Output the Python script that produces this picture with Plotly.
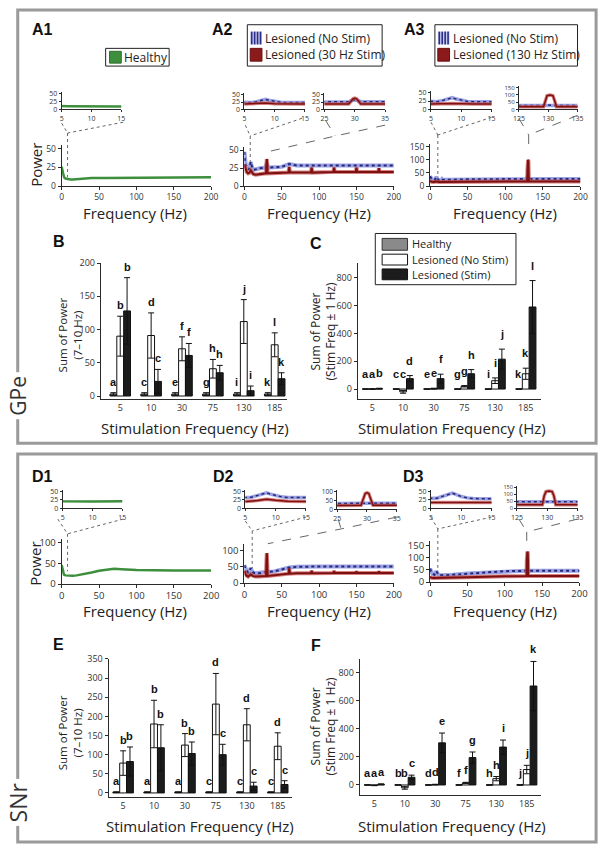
import plotly.graph_objects as go

W, H = 608, 853

# ---------------- data ----------------
STIM_FREQ_LABELS = ['5', '10', '30', '75', '130', '185']

# Power spectra (frequency in Hz, power)
GPE_HEALTHY_F = [0, 1, 2, 3, 4, 6, 8, 10, 12, 15, 20, 25, 30, 40, 60, 80, 100, 150, 200]
GPE_HEALTHY_P = [26, 23, 17, 13, 11, 10, 9.5, 9, 9, 9, 9.5, 10, 10.5, 11, 11, 11, 11.5, 12, 12]

GPE_NOSTIM_A2_F = [0, 0.5, 1, 2, 3, 4, 5, 6, 7, 8, 8.5, 9, 10, 11, 12, 13, 15, 17, 20, 25, 29, 29.5, 30, 30.5, 31,
                   35, 40, 50, 55, 60, 65, 70, 80, 100, 120, 150, 180, 200]
GPE_NOSTIM_A2_P = [48, 36, 31, 29, 27, 25, 23, 23, 26, 31, 34, 31, 27, 24, 23, 23, 23, 24, 25, 26, 26, 30, 32, 30, 26,
                   26, 27, 27, 29, 31, 30, 29, 29, 29, 30, 29, 29, 29]
GPE_STIM30_F = [0, 1, 2, 3, 5, 7, 8.5, 10, 12, 15, 20, 25, 29, 29.4, 29.7, 30, 30.3, 30.6, 31, 35, 50, 59, 60, 61,
                89, 90, 91, 119, 120, 121, 149, 150, 151, 179, 180, 181, 200]
GPE_STIM30_P = [30, 25, 22, 20, 18, 19, 22, 19, 17, 16, 17, 18, 18, 28, 36, 38, 36, 28, 18, 18, 19, 19, 27, 19,
                19, 26, 19, 20, 26, 20, 20, 26, 20, 20, 25, 20, 20]

GPE_NOSTIM_A3_F = [0, 0.5, 1, 2, 3, 5, 6, 7, 8, 8.5, 9, 10, 11, 12, 15, 16, 17, 20, 30, 50, 100, 125, 129, 129.5,
                   130, 130.5, 131, 135, 150, 200]
GPE_NOSTIM_A3_P = [38, 33, 30, 28, 26, 23, 23, 27, 33, 35, 32, 27, 24, 23, 23, 27, 24, 24, 25, 26, 27, 27, 27, 33,
                   33, 29, 27, 27, 27, 27]
GPE_STIM130_F = [0, 1, 2, 5, 8.5, 12, 15, 20, 50, 100, 129.2, 129.5, 129.8, 130.3, 130.8, 131.1, 131.4, 200]
GPE_STIM130_P = [20, 18, 17, 16, 18, 16, 16, 16, 17, 18, 18, 60, 95, 100, 95, 60, 18, 18]

SNR_HEALTHY_F = [0, 1, 2, 3, 5, 10, 15, 20, 30, 40, 50, 60, 70, 80, 90, 100, 150, 200]
SNR_HEALTHY_P = [46, 35, 27, 23, 21, 20, 20, 21, 24, 28, 32, 35, 37, 36, 35, 34, 33, 33]

SNR_NOSTIM_D2_F = [0, 1, 2, 3, 5, 6, 7, 8, 8.5, 9, 10, 11, 12, 15, 20, 25, 30, 35, 40, 50, 60, 70, 80, 100, 150, 200]
SNR_NOSTIM_D2_P = [55, 45, 40, 38, 32, 33, 38, 44, 46, 43, 38, 34, 32, 30, 30, 33, 34, 34, 36, 42, 48, 50, 51, 51, 51, 51]
SNR_STIM30_F = [0, 1, 2, 3, 5, 7, 8.5, 10, 12, 15, 20, 25, 29, 29.4, 29.7, 30, 30.3, 30.6, 31, 40, 50, 59, 60, 61,
                70, 89, 90, 91, 119, 120, 121, 149, 150, 151, 179, 180, 181, 200]
SNR_STIM30_P = [38, 30, 25, 23, 20, 23, 27, 24, 21, 20, 20, 21, 22, 60, 88, 92, 88, 60, 22, 24, 27, 29, 45, 29,
                30, 30, 38, 30, 31, 37, 31, 31, 36, 31, 31, 36, 31, 31]

SNR_NOSTIM_D3_F = [0, 1, 2, 3, 5, 6, 7, 8, 8.5, 9, 10, 11, 12, 15, 20, 30, 50, 75, 100, 125, 130, 150, 200]
SNR_NOSTIM_D3_P = [55, 45, 40, 36, 30, 30, 36, 43, 45, 42, 35, 31, 29, 28, 28, 30, 35, 40, 45, 46, 47, 47, 47]
SNR_STIM130_F = [0, 1, 2, 5, 10, 20, 50, 100, 129.2, 129.5, 129.8, 130.3, 130.8, 131.1, 131.4, 150, 200]
SNR_STIM130_P = [22, 20, 18, 17, 17, 17, 20, 24, 25, 90, 120, 125, 120, 90, 25, 25, 25]

# Bar charts: Healthy / Lesioned (No Stim) / Lesioned (Stim)
GPE_SUM_H = [3, 3, 3, 3, 3, 3]
GPE_SUM_H_ERR = [2, 2, 2, 2, 2, 2]
GPE_SUM_NS = [90, 91, 71, 41, 112, 77]
GPE_SUM_NS_ERR = [30, 34, 18, 14, 33, 18]
GPE_SUM_S = [128, 22, 61, 35, 8, 26]
GPE_SUM_S_ERR = [50, 18, 18, 11, 7, 9]
GPE_SUM_LETTERS = [['a', 'c', 'e', 'g', 'i', 'k'], ['b', 'd', 'f', 'h', 'j', 'l'], ['b', 'c', 'f', 'h', 'i', 'k']]

GPE_STIM_H = [0, 0, 0, 0, 0, 0]
GPE_STIM_H_ERR = [0, 0, 0, 0, 0, 0]
GPE_STIM_NS = [0, -20, 3, 20, 60, 110]
GPE_STIM_NS_ERR = [2, 10, 3, 5, 20, 40]
GPE_STIM_S = [3, 75, 75, 110, 215, 590]
GPE_STIM_S_ERR = [3, 22, 32, 30, 72, 190]
GPE_STIM_LETTERS = [['a', 'c', 'e', 'g', 'i', 'k'], ['a', 'c', 'e', 'g', 'i', 'k'], ['b', 'd', 'f', 'h', 'j', 'l']]

SNR_SUM_H = [2, 2, 2, 2, 2, 2]
SNR_SUM_H_ERR = [1, 1, 1, 1, 1, 1]
SNR_SUM_NS = [78, 180, 125, 232, 178, 122]
SNR_SUM_NS_ERR = [32, 62, 30, 80, 42, 35]
SNR_SUM_S = [82, 118, 103, 100, 18, 22]
SNR_SUM_S_ERR = [38, 60, 30, 27, 10, 10]
SNR_SUM_LETTERS = [['a', 'a', 'a', 'c', 'c', 'c'], ['b', 'b', 'b', 'd', 'd', 'd'], ['b', 'b', 'b', 'c', 'c', 'c']]

SNR_STIM_H = [0, 0, 0, 0, 0, 0]
SNR_STIM_H_ERR = [0, 0, 0, 0, 0, 0]
SNR_STIM_NS = [-3, -20, 3, 15, 45, 110]
SNR_STIM_NS_ERR = [2, 10, 2, 4, 15, 30]
SNR_STIM_S = [5, 55, 300, 195, 270, 705]
SNR_STIM_S_ERR = [3, 15, 70, 40, 50, 175]
SNR_STIM_LETTERS = [['a', 'b', 'd', 'f', 'h', 'j'], ['a', 'b', 'd', 'f', 'h', 'j'], ['a', 'c', 'e', 'g', 'i', 'k']]

# ---------------- helpers ----------------
FONT = 'Open Sans'
BOLD = 'Liberation Sans'
BARGAP = 0.335
BW = (1 - BARGAP) / 3

fig = go.Figure()
axes = {}
ann = []
shp = []


def X(p):
    return p / W


def Y(p):
    return 1 - p / H


AX = dict(showline=True, linecolor='#2a2a2a', linewidth=1, ticks='outside', tickcolor='#2a2a2a',
          showgrid=False, zeroline=False, fixedrange=True)
n_axes = [0]


def make_axes(x0, x1, xr, ytop, ybot, yr, xt, yt, fs, tl=4, xtext=None, yfs=None):
    n_axes[0] += 1
    s = '' if n_axes[0] == 1 else str(n_axes[0])
    tf = dict(size=fs, color='#333', family=FONT)
    ytf = dict(size=yfs or fs, color='#333', family=FONT)
    xa = dict(AX, domain=[X(x0), X(x1)], range=xr, anchor='y' + s, tickvals=xt, ticklen=tl, tickfont=tf)
    if xtext:
        xa['ticktext'] = xtext
    ya = dict(AX, domain=[Y(ybot), Y(ytop)], range=yr, anchor='x' + s, tickvals=yt, ticklen=tl, tickfont=ytf)
    axes['xaxis' + s] = xa
    axes['yaxis' + s] = ya
    return 'x' + s, 'y' + s


def line(f, p, xa, ya, color, w, dash='solid'):
    fig.add_trace(go.Scatter(x=f, y=p, mode='lines', line=dict(color=color, width=w, dash=dash),
                             xaxis=xa, yaxis=ya, showlegend=False, hoverinfo='skip'))


def green(f, p, xa, ya, w):
    line(f, p, xa, ya, '#3d8f3d', w)


def blue(f, p, xa, ya, w):
    line(f, p, xa, ya, '#9ca2e2', w + 2)
    line(f, p, xa, ya, '#23287a', w, 'dot')


def red(f, p, xa, ya, w):
    line(f, p, xa, ya, 'rgba(200,85,85,0.75)', w + 2)
    line(f, p, xa, ya, '#7d1010', w)


def txt(x, y, s, size, family=FONT, bold=False, angle=0, xanchor='center', bg=None, color='#222', pad=0):
    d = dict(x=X(x), y=Y(y), xref='paper', yref='paper', text=s, showarrow=False, xanchor=xanchor,
             yanchor='middle', textangle=angle, borderpad=pad,
             font=dict(size=size, family=family, color=color, weight='bold' if bold else 'normal'))
    if bg:
        d.update(bgcolor=bg, borderpad=3)
    ann.append(d)


def rect(x0, y0, x1, y1, fill, lc, lw=1):
    shp.append(dict(type='rect', xref='paper', yref='paper', x0=X(x0), x1=X(x1), y0=Y(y1), y1=Y(y0),
                    fillcolor=fill, line=dict(color=lc, width=lw)))


def path(points, dash, color='#666', w=1):
    d = 'M ' + ' L '.join(f'{X(a):.5f} {Y(b):.5f}' for a, b in points)
    shp.append(dict(type='path', path=d, xref='paper', yref='paper', line=dict(color=color, width=w, dash=dash)))


def bars(xa, ya, series, letters, yshift):
    colors = ['#8a8a8a', 'white', '#1c1c1c']
    for k, (vals, errs) in enumerate(series):
        fig.add_trace(go.Bar(x=list(range(6)), y=vals,
                             error_y=dict(type='data', array=errs, visible=True, color='#111', thickness=1, width=3),
                             marker=dict(color=colors[k], line=dict(color='#111', width=1)),
                             xaxis=xa, yaxis=ya, showlegend=False, hoverinfo='skip'))
        off = (k - 1) * BW
        for i in range(6):
            ann.append(dict(x=i + off, y=max(vals[i] + errs[i], 0), xref=xa, yref=ya, text=letters[k][i],
                            showarrow=False, yanchor='bottom', yshift=yshift, borderpad=0,
                            font=dict(size=11, family=BOLD, color='#111', weight='bold')))


def blue_icon(x0, y0, x1, y1):
    rect(x0, y0, x1, y1, '#c4c7ee', '#c4c7ee', 0)
    for i in range(4):
        xx = x0 + 1.5 + i * (x1 - x0 - 3) / 3
        path([(xx, y0), (xx, y1)], 'solid', '#2a2e85', 1.6)


# ---------------- outer boxes ----------------
rect(12, 3, 604, 443, 'rgba(0,0,0,0)', '#9a9a9a', 3)
rect(12, 454, 604, 848, 'rgba(0,0,0,0)', '#9a9a9a', 3)

# ---------------- A row (GPe spectra) ----------------
fs_main_a = 8.5
fs_in = 7
xa, ya = make_axes(57, 210, [0, 200], 140, 182, [0, 55], [0, 50, 100, 150, 200], [0, 25, 50], fs_main_a, 3)
green(GPE_HEALTHY_F, GPE_HEALTHY_P, xa, ya, 2.5)
xa, ya = make_axes(57, 118, [5, 15], 86.4, 104, [0, 55], [5, 10, 15], [0, 25, 50], fs_in, 2)
green(GPE_HEALTHY_F, GPE_HEALTHY_P, xa, ya, 2.5)

xa, ya = make_axes(244, 397, [0, 200], 142, 182, [0, 55], [0, 50, 100, 150, 200], [0, 25, 50], fs_main_a, 3)
blue(GPE_NOSTIM_A2_F, GPE_NOSTIM_A2_P, xa, ya, 2)
red(GPE_STIM30_F, GPE_STIM30_P, xa, ya, 2)
for x0, x1, xr, xt in [(244, 306, [5, 15], [5, 10, 15]), (326, 388, [25, 35], [25, 30, 35])]:
    xa, ya = make_axes(x0, x1, xr, 87.5, 104, [0, 55], xt, [0, 25, 50], fs_in, 2)
    blue(GPE_NOSTIM_A2_F, GPE_NOSTIM_A2_P, xa, ya, 1.5)
    red(GPE_STIM30_F, GPE_STIM30_P, xa, ya, 1.5)

xa, ya = make_axes(434, 588, [0, 200], 139, 182, [0, 160], [0, 50, 100, 150, 200], [0, 50, 100, 150], fs_main_a, 3)
blue(GPE_NOSTIM_A3_F, GPE_NOSTIM_A3_P, xa, ya, 2)
red(GPE_STIM130_F, GPE_STIM130_P, xa, ya, 2)
xa, ya = make_axes(435, 497, [5, 15], 85.3, 104, [0, 55], [5, 10, 15], [0, 25, 50], fs_in, 2)
blue(GPE_NOSTIM_A3_F, GPE_NOSTIM_A3_P, xa, ya, 1.5)
red(GPE_STIM130_F, GPE_STIM130_P, xa, ya, 1.5)
xa, ya = make_axes(525, 585, [125, 135], 80.5, 104, [0, 160], [125, 130, 135], [0, 50, 100, 150], fs_in, 2,
                   yfs=6)
blue(GPE_NOSTIM_A3_F, GPE_NOSTIM_A3_P, xa, ya, 1.5)
red(GPE_STIM130_F, GPE_STIM130_P, xa, ya, 1.5)

# ---------------- B and C ----------------
xa, ya = make_axes(97, 288, [-0.63, 5.41], 260, 398.4, [-5, 200], list(range(6)), [0, 50, 100, 150, 200], 9, 3,
                   STIM_FREQ_LABELS)
axes['xaxis' + xa[1:]]['ticks'] = ''
bars(xa, ya, [(GPE_SUM_H, GPE_SUM_H_ERR), (GPE_SUM_NS, GPE_SUM_NS_ERR), (GPE_SUM_S, GPE_SUM_S_ERR)],
     GPE_SUM_LETTERS, 4)

xa, ya = make_axes(360, 548, [-0.48, 5.51], 260, 398, [-71, 906], list(range(6)), [0, 200, 400, 600, 800], 9, 3,
                   STIM_FREQ_LABELS)
axes['xaxis' + xa[1:]]['ticks'] = ''
bars(xa, ya, [(GPE_STIM_H, GPE_STIM_H_ERR), (GPE_STIM_NS, GPE_STIM_NS_ERR), (GPE_STIM_S, GPE_STIM_S_ERR)],
     GPE_STIM_LETTERS, 8)

# ---------------- D row (SNr spectra) ----------------
fs_main_d = 9.5
xa, ya = make_axes(57, 210, [0, 200], 539.8, 586, [0, 110], [0, 50, 100, 150, 200], [0, 50, 100], fs_main_d, 3)
green(SNR_HEALTHY_F, SNR_HEALTHY_P, xa, ya, 2.5)
xa, ya = make_axes(58, 119, [5, 15], 490.3, 509, [0, 55], [5, 10, 15], [0, 25, 50], fs_in, 2)
green(SNR_HEALTHY_F, SNR_HEALTHY_P, xa, ya, 2.5)

xa, ya = make_axes(244, 397, [0, 200], 545.4, 585, [0, 120], [0, 50, 100, 150, 200], [0, 50, 100], fs_main_d, 3)
blue(SNR_NOSTIM_D2_F, SNR_NOSTIM_D2_P, xa, ya, 2)
red(SNR_STIM30_F, SNR_STIM30_P, xa, ya, 2)
xa, ya = make_axes(245, 307, [5, 15], 490.3, 509, [0, 55], [5, 10, 15], [0, 25, 50], fs_in, 2)
blue(SNR_NOSTIM_D2_F, SNR_NOSTIM_D2_P, xa, ya, 1.5)
red(SNR_STIM30_F, SNR_STIM30_P, xa, ya, 1.5)
xa, ya = make_axes(339, 400, [25, 35], 490, 510, [0, 110], [25, 30, 35], [0, 50, 100], fs_in, 2, yfs=6.5)
blue(SNR_NOSTIM_D2_F, SNR_NOSTIM_D2_P, xa, ya, 1.5)
red(SNR_STIM30_F, SNR_STIM30_P, xa, ya, 1.5)

xa, ya = make_axes(434, 587, [0, 200], 542, 584, [0, 170], [0, 50, 100, 150, 200], [0, 50, 100, 150], fs_main_d, 3)
blue(SNR_NOSTIM_D3_F, SNR_NOSTIM_D3_P, xa, ya, 2)
red(SNR_STIM130_F, SNR_STIM130_P, xa, ya, 2)
xa, ya = make_axes(435, 497, [5, 15], 490.3, 509, [0, 55], [5, 10, 15], [0, 25, 50], fs_in, 2)
blue(SNR_NOSTIM_D3_F, SNR_NOSTIM_D3_P, xa, ya, 1.5)
red(SNR_STIM130_F, SNR_STIM130_P, xa, ya, 1.5)
xa, ya = make_axes(523, 585, [125, 135], 486.5, 509, [0, 160], [125, 130, 135], [0, 50, 100, 150], fs_in, 2,
                   yfs=5.5)
blue(SNR_NOSTIM_D3_F, SNR_NOSTIM_D3_P, xa, ya, 1.5)
red(SNR_STIM130_F, SNR_STIM130_P, xa, ya, 1.5)

# ---------------- E and F ----------------
xa, ya = make_axes(105, 293, [-0.47, 5.47], 662, 802, [-10, 350], list(range(6)),
                   [0, 50, 100, 150, 200, 250, 300, 350], 9, 3, STIM_FREQ_LABELS)
axes['xaxis' + xa[1:]]['ticks'] = ''
bars(xa, ya, [(SNR_SUM_H, SNR_SUM_H_ERR), (SNR_SUM_NS, SNR_SUM_NS_ERR), (SNR_SUM_S, SNR_SUM_S_ERR)],
     SNR_SUM_LETTERS, 4)

xa, ya = make_axes(362, 548, [-0.48, 5.48], 662, 800, [-70, 898], list(range(6)), [0, 200, 400, 600, 800], 9, 3,
                   STIM_FREQ_LABELS)
axes['xaxis' + xa[1:]]['ticks'] = ''
bars(xa, ya, [(SNR_STIM_H, SNR_STIM_H_ERR), (SNR_STIM_NS, SNR_STIM_NS_ERR), (SNR_STIM_S, SNR_STIM_S_ERR)],
     SNR_STIM_LETTERS, 5)

# ---------------- zoom guide lines ----------------
path([(57, 118), (63, 128)], 'dot'); path([(120, 117), (63, 128)], 'dot'); path([(63, 128), (63, 173)], 'dot')
path([(245, 120), (250, 131)], 'dot'); path([(303, 113), (250, 131)], 'dot'); path([(250, 131), (250, 157)], 'dot')
path([(327, 115), (337, 131)], 'dash'); path([(388, 120), (337, 131), (268, 147)], 'dash')
path([(435, 117), (442, 130)], 'dot'); path([(497, 112), (442, 130)], 'dot'); path([(442, 130), (442, 173)], 'dot')
path([(525, 113), (535, 130)], 'dash'); path([(585, 110), (535, 130)], 'dash'); path([(535, 130), (535, 145)], 'dash')

path([(53, 520), (63, 535)], 'dot'); path([(120, 520), (63, 535)], 'dot'); path([(63, 535), (63, 573)], 'dot')
path([(245, 522), (252, 532)], 'dot'); path([(307, 518), (252, 532)], 'dot'); path([(252, 532), (252, 570)], 'dot')
path([(340, 520), (343, 530)], 'dash'); path([(400, 518), (343, 530), (268, 545)], 'dash')
path([(435, 518), (442, 530)], 'dot'); path([(497, 518), (442, 530)], 'dot'); path([(442, 530), (442, 573)], 'dot')
path([(525, 520), (533, 533)], 'dash'); path([(585, 520), (533, 533)], 'dash'); path([(533, 533), (533, 545)], 'dash')

# ---------------- legends ----------------
rect(102, 42, 167, 60, 'white', '#222', 1)
rect(106, 45, 118, 57, '#3d8f3d', '#2d6f2d', 1)
txt(120, 51, 'Healthy', 12, xanchor='left')

for lx0, lx1, label in [(247, 385, 'Lesioned (30 Hz Stim)'), (439, 585, 'Lesioned (130 Hz Stim)')]:
    rect(lx0, 18, lx1, 60, 'white', '#222', 1)
    blue_icon(lx0 + 3, 25, lx0 + 15, 38)
    rect(lx0 + 3, 42, lx0 + 15, 55, '#8b1a1a', '#6b0e0e', 1)
    txt(lx0 + 17, 32, 'Lesioned (No Stim)', 12, xanchor='left')
    txt(lx0 + 17, 48.5, label, 12, xanchor='left')

rect(378, 230, 522, 282, 'white', '#222', 1)
rect(385, 235, 411, 247, '#8a8a8a', '#333', 1)
rect(385, 251, 411, 262, 'white', '#111', 1)
rect(385, 266, 411, 277, '#1c1c1c', '#111', 1)
txt(415, 240.5, 'Healthy', 11, xanchor='left')
txt(415, 256.2, 'Lesioned (No Stim)', 11, xanchor='left')
txt(415, 271.9, 'Lesioned (Stim)', 11, xanchor='left')

# ---------------- titles & labels ----------------
for x, y, s in [(37, 23, 'A1'), (222, 23, 'A2'), (418, 23, 'A3'), (54, 238, 'B'), (317, 240, 'C'),
                (37, 477, 'D1'), (223, 477, 'D2'), (417, 477, 'D3'), (54, 647, 'E'), (317, 648, 'F')]:
    txt(x, y, s, 16, family=BOLD, bold=True, color='#111')

for x in [132, 320, 511]:
    txt(x, 209, 'Frequency (Hz)', 15)
    txt(x, 613, 'Frequency (Hz)', 15)
txt(30, 160, 'Power', 15, angle=-90)
txt(30, 565, 'Power', 15, angle=-90)

txt(193, 428, 'Stimulation Frequency (Hz)', 15)
txt(456, 428, 'Stimulation Frequency (Hz)', 15)
txt(199, 832, 'Stimulation Frequency (Hz)', 15)
txt(457, 832, 'Stimulation Frequency (Hz)', 15)

txt(65, 333, 'Sum of Power<br>(7–10 Hz)', 11.5, angle=-90)
txt(65, 737, 'Sum of Power<br>(7–10 Hz)', 11.5, angle=-90)
txt(325, 330, 'Sum of Power<br>(Stim Freq ± 1 Hz)', 12, angle=-90)
txt(325, 731, 'Sum of Power<br>(Stim Freq ± 1 Hz)', 12, angle=-90)

txt(12, 395, 'GPe', 21, angle=-90, bg='white', color='#333')
txt(12, 808, 'SNr', 23, angle=-90, bg='white', color='#333')

fig.update_layout(width=W, height=H, autosize=False, margin=dict(l=0, r=0, t=0, b=0),
                  paper_bgcolor='white', plot_bgcolor='rgba(0,0,0,0)', barmode='group', bargap=BARGAP,
                  bargroupgap=0, showlegend=False, hovermode=False, annotations=ann, shapes=shp, **axes)
fig.write_html('out.html', config={'displayModeBar': False},
               post_script="document.body.style.margin='0';document.body.style.overflow='hidden';")
